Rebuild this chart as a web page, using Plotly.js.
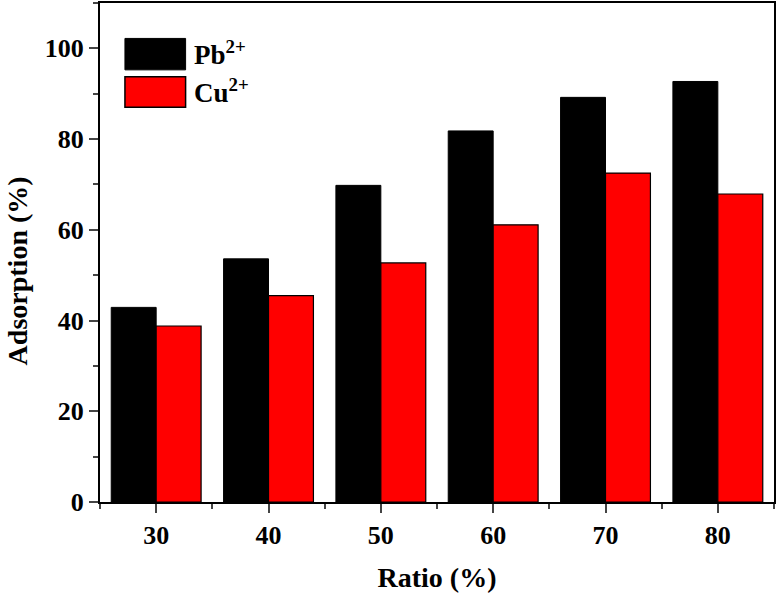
<!DOCTYPE html>
<html>
<head>
<meta charset="utf-8">
<script src="https://cdn.plot.ly/plotly-3.0.1.min.js"></script>
<style>html,body{margin:0;padding:0;background:#fff;}#chart{width:779px;height:598px;}</style>
</head>
<body>
<div id="chart"></div>
<script>
const ratios = [30, 40, 50, 60, 70, 80];
const pbValues = [42.9, 53.6, 69.8, 81.8, 89.2, 92.7];
const cuValues = [38.8, 45.5, 52.7, 61.1, 72.5, 67.9];
const seriesNames = ['Pb<sup>2+</sup>', 'Cu<sup>2+</sup>'];
const seriesColors = ['#000000', '#ff0000'];
const xTitle = 'Ratio (%)';
const yTitle = 'Adsorption (%)';

const fam = 'Liberation Serif, Times New Roman, serif';
const tickFont = {family: fam, size: 26, color: '#000', weight: 700};
const titleFont = {family: fam, size: 28, color: '#000', weight: 700};

const traces = [
  {type: 'bar', x: ratios, y: pbValues, name: seriesNames[0],
   marker: {color: seriesColors[0], line: {color: '#000', width: 1}}, showlegend: false},
  {type: 'bar', x: ratios, y: cuValues, name: seriesNames[1],
   marker: {color: seriesColors[1], line: {color: '#000', width: 1.2}}, showlegend: false}
];

const layout = {
  width: 779, height: 598,
  margin: {l: 100, r: 5, t: 3, b: 96},
  paper_bgcolor: '#fff', plot_bgcolor: '#fff',
  barmode: 'group', bargap: 0.2, bargroupgap: 0,
  font: {family: fam, size: 20, color: '#000'},
  xaxis: {
    range: [25, 85], tick0: 30, dtick: 10, ticks: 'outside', ticklen: 9, tickwidth: 2,
    showline: true, linewidth: 2, linecolor: '#000', mirror: true, showgrid: false, zeroline: false,
    tickfont: tickFont,
    minor: {dtick: 5, tick0: 25, ticks: 'outside', ticklen: 5, tickwidth: 2, showgrid: false},
    title: {text: xTitle, font: titleFont, standoff: 18}
  },
  yaxis: {
    range: [0, 110], tick0: 0, dtick: 20, ticks: 'outside', ticklen: 9, tickwidth: 2,
    showline: true, linewidth: 2, linecolor: '#000', mirror: true, showgrid: false, zeroline: false,
    tickfont: tickFont,
    minor: {dtick: 10, ticks: 'outside', ticklen: 5, tickwidth: 2, showgrid: false}
  },
  shapes: [
    {type: 'rect', xref: 'paper', yref: 'paper', x0: 0.037, x1: 0.127, y0: 0.929, y1: 0.866,
     fillcolor: seriesColors[0], line: {color: '#000', width: 1}},
    {type: 'rect', xref: 'paper', yref: 'paper', x0: 0.037, x1: 0.127, y0: 0.852, y1: 0.791,
     fillcolor: seriesColors[1], line: {color: '#000', width: 1.5}}
  ],
  annotations: [
    {xref: 'paper', yref: 'paper', x: -0.121, y: 0.463, xanchor: 'center', yanchor: 'middle', showarrow: false,
     textangle: -90, text: yTitle, font: titleFont},
    {xref: 'paper', yref: 'paper', x: 0.136, y: 0.900, xanchor: 'left', yanchor: 'middle', showarrow: false,
     text: seriesNames[0], font: {family: fam, size: 27, color: '#000', weight: 700}},
    {xref: 'paper', yref: 'paper', x: 0.136, y: 0.824, xanchor: 'left', yanchor: 'middle', showarrow: false,
     text: seriesNames[1], font: {family: fam, size: 27, color: '#000', weight: 700}}
  ]
};

Plotly.newPlot('chart', traces, layout, {displayModeBar: false, staticPlot: true});
</script>
</body>
</html>
